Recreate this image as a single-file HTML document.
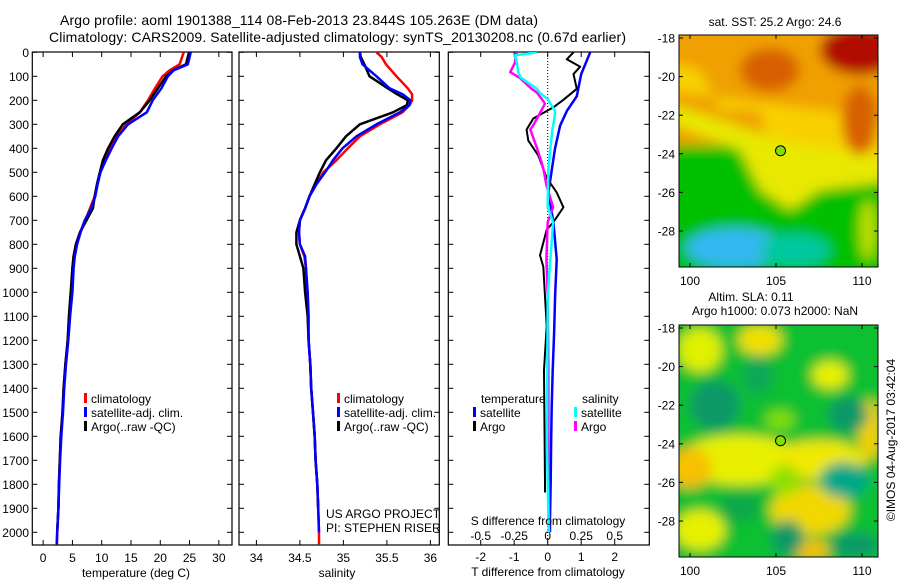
<!DOCTYPE html>
<html><head><meta charset="utf-8"><style>
body{margin:0;background:#fff;}
svg{display:block;font-family:"Liberation Sans",sans-serif;}
text{font-size:12px;fill:#000;}
</style></head><body>
<svg id="chart" width="900" height="580" viewBox="0 0 900 580" xmlns="http://www.w3.org/2000/svg">
<defs>
<clipPath id="c1"><rect x="32" y="52" width="200" height="493"/></clipPath>
<clipPath id="c2"><rect x="239" y="52" width="200" height="493"/></clipPath>
<clipPath id="c3"><rect x="448" y="52" width="201" height="493"/></clipPath>
<clipPath id="m1"><rect x="679" y="35" width="199" height="232"/></clipPath>
<clipPath id="m2"><rect x="679" y="325" width="199" height="232"/></clipPath>
<filter id="bl" x="-20%" y="-20%" width="140%" height="140%"><feGaussianBlur stdDeviation="6"/></filter>
<filter id="bl2" x="-20%" y="-20%" width="140%" height="140%"><feGaussianBlur stdDeviation="6"/></filter>
</defs>
<text x="60" y="25" textLength="478" style="font-size:14px">Argo profile: aoml 1901388_114 08-Feb-2013 23.844S 105.263E (DM data)</text>
<text x="49" y="42" textLength="577" style="font-size:14px">Climatology: CARS2009. Satellite-adjusted climatology: synTS_20130208.nc (0.67d earlier)</text>
<g id="maps"></g>
<g id="plots"></g>
</svg>
<script>
// ---- data ----
const depthT = [0,50,75,100,150,200,250,300,350,400,450,500,550,600,650,700,750,800,850,900,1000,1100,1200,1300,1400,1500,1600,1700,1800,1900,2000,2050];
const tempClim = [24.0,23.3,21.6,20.4,19.1,17.9,16.5,14.2,12.6,11.4,10.4,9.7,9.2,8.8,8.0,7.2,6.3,5.6,5.2,5.0,4.8,4.5,4.2,3.8,3.5,3.3,3.0,2.85,2.7,2.6,2.4,2.3];
const tempSat = [25.2,24.7,22.3,21.3,20.2,18.7,17.7,14.5,12.8,11.7,10.7,9.8,9.3,8.9,8.2,7.1,6.4,5.8,5.4,5.2,5.0,4.6,4.3,3.9,3.6,3.4,3.1,2.9,2.75,2.6,2.4,2.35];
const tempArgo = [24.9,24.4,22.2,21.0,19.6,18.2,16.5,13.6,12.2,11.1,10.2,9.7,9.2,8.8,8.5,7.4,6.3,5.6,5.2,5.0,4.7,4.4,4.2,3.8,3.5,3.3,3.0,2.85,2.7,2.6,2.4,null];
const depthS = [0,20,50,100,150,175,200,220,250,300,350,400,450,500,550,600,650,700,750,800,850,900,1000,1100,1200,1300,1400,1500,1600,1700,1800,1900,2000,2050];
const salClim = [35.38,35.44,35.49,35.61,35.74,35.79,35.79,35.76,35.68,35.42,35.19,35.05,34.92,34.77,34.69,34.61,34.56,34.5,34.49,34.5,34.55,34.57,34.58,34.59,34.6,34.62,34.63,34.65,34.67,34.68,34.7,34.71,34.72,34.72];
const salSat = [35.19,35.19,35.22,35.38,35.53,35.68,35.77,35.76,35.65,35.38,35.15,34.99,34.88,34.79,34.69,34.61,34.56,34.5,34.49,34.5,34.56,34.57,34.59,34.6,34.6,34.62,34.63,34.65,34.67,34.68,34.7,34.71,34.72,null];
const salArgo = [35.19,35.2,35.24,35.30,35.51,35.62,35.74,35.73,35.57,35.19,35.03,34.92,34.80,34.73,34.67,34.61,34.56,34.5,34.46,34.46,34.5,34.54,34.56,34.59,34.6,34.62,34.63,34.65,34.67,34.68,34.7,34.71,null,null];
const depthDT = [0,91,183,245,306,399,492,584,708,862,1016,1171,1325,1479,1634,1788,1943,2000];
const dTsat = [1.27,1.0,0.87,0.57,0.37,0.22,0.12,0.02,0.17,0.27,0.22,0.19,0.15,0.12,0.1,0.09,0.07,0.07];
const depthDTA = [0,29,60,91,152,198,229,276,322,368,430,523,584,646,708,739,846,893,1140,1325,1788,1834];
const dTargo = [0.77,0.57,0.97,0.77,0.87,0.47,0.17,-0.43,-0.63,-0.58,-0.28,-0.03,0.27,0.47,0.17,-0.03,-0.23,-0.13,-0.03,-0.11,-0.08,-0.08];
const depthDS = [0,13,44,83,106,152,168,198,214,245,276,306,322,399,461,492,553,646,708,862,1016,1325,1634,1943,2000];
const dSargo = [-0.23,-0.24,-0.245,-0.28,-0.21,-0.12,-0.08,-0.04,-0.02,-0.05,-0.08,-0.11,-0.13,-0.08,-0.045,-0.03,-0.01,0.04,0,-0.01,0,0.005,0.005,0.008,0.008];
const dSsat = [-0.08,-0.245,-0.23,-0.22,-0.2,-0.08,-0.06,0.005,0.02,0.055,0.05,0.04,0.035,0.02,0.01,0.005,0.002,0.0,0.04,0.02,0.0,-0.003,-0.005,0.005,0.01];
const depthTicks = [0,100,200,300,400,500,600,700,800,900,1000,1100,1200,1300,1400,1500,1600,1700,1800,1900,2000];
const tempTicks = [0,5,10,15,20,25,30];
const salTicks = [34,34.5,35,35.5,36];
const dTTicks = [-2,-1,0,1,2];
const dSTicks = [-0.5,-0.25,0,0.25,0.5];
const lonTicks = [100,105,110];
const latTicks = [-18,-20,-22,-24,-26,-28];

const NS="http://www.w3.org/2000/svg";
const plots=document.getElementById('plots');
function mk(tag,attrs,parent){const e=document.createElementNS(NS,tag);for(const k in attrs)e.setAttribute(k,attrs[k]);(parent||plots).appendChild(e);return e;}
function txt(s,x,y,anchor,parent,size){const t=mk('text',{x:x,y:y,'text-anchor':anchor||'start'},parent);t.textContent=s;if(size)t.style.fontSize=size+'px';return t;}

const yD = d => 52.3 + d*0.24;
const xT = v => 32.3 + (v+1.85)*5.857;
const xS = v => 239 + (v-33.8)*87;
const xDT = v => 547.7 + v*33.5;
const xDS = v => 547.7 + v*4*33.5;

function line(xs,ds,xf,color,w,clip,name){
  let d='';let pen=false;
  for(let i=0;i<xs.length;i++){ if(xs[i]==null){pen=false;continue;} d+=(pen?'L':'M')+xf(xs[i]).toFixed(1)+','+yD(ds[i]).toFixed(1);pen=true;}
  const p=mk('path',{d:d,fill:'none',stroke:color,'stroke-width':w,'clip-path':'url(#'+clip+')','stroke-linejoin':'round'});
  
  
}
function box(x0,x1,name){
  const r=mk('rect',{x:x0,y:52,width:x1-x0,height:493,fill:'none',stroke:'#000','stroke-width':1.2});
  
  
}
box(32.3,232,'temperature-panel');
box(239,439.3,'salinity-panel');
box(448.3,649.3,'difference-panel');
depthTicks.forEach(d=>{
  const y=yD(d);
  const t=txt(String(d),29,y+4.5,'end');
  
  
  [[32.3,1],[232,-1],[239,1],[439.3,-1],[448.3,1],[649.3,-1]].forEach(([x,s])=>mk('line',{x1:x,x2:x+s*5,y1:y,y2:y,stroke:'#000'}));
});
tempTicks.forEach(v=>{const x=xT(v);mk('line',{x1:x,x2:x,y1:545,y2:540,stroke:'#000'});mk('line',{x1:x,x2:x,y1:52,y2:57,stroke:'#000'});
  const t=txt(String(v),x,562,'middle');});
salTicks.forEach(v=>{const x=xS(v);mk('line',{x1:x,x2:x,y1:545,y2:540,stroke:'#000'});mk('line',{x1:x,x2:x,y1:52,y2:57,stroke:'#000'});
  const t=txt(String(v),x,562,'middle');});
dTTicks.forEach(v=>{const x=xDT(v);mk('line',{x1:x,x2:x,y1:545,y2:540,stroke:'#000'});mk('line',{x1:x,x2:x,y1:52,y2:57,stroke:'#000'});
  const t=txt(String(v),x,561,'middle');});
dSTicks.forEach(v=>{const t=txt(String(v),xDS(v),540,'middle');});
mk('line',{x1:xDT(0),x2:xDT(0),y1:52,y2:545,stroke:'#000','stroke-dasharray':'1,2'});
let t;
t=txt('temperature (deg C)',136,577,'middle');
t=txt('salinity',337,577,'middle');
t=txt('T difference from climatology',548,576,'middle');

line(tempClim,depthT,xT,'#f00',2.5,'c1','temp-climatology-line');
line(tempArgo,depthT,xT,'#000',2.5,'c1','temp-argo-line');
line(tempSat,depthT,xT,'#00f',2.5,'c1','temp-satellite-line');
line(salClim,depthS,xS,'#f00',2.5,'c2','sal-climatology-line');
line(salArgo,depthS,xS,'#000',2.5,'c2','sal-argo-line');
line(salSat,depthS,xS,'#00f',2.5,'c2','sal-satellite-line');
line(dTsat,depthDT,xDT,'#00f',2.5,'c3','t-diff-satellite-line');
line(dTargo,depthDTA,xDT,'#000',2,'c3','t-diff-argo-line');
line(dSargo,depthDS,xDS,'#f0f',2.5,'c3','s-diff-argo-line');
line(dSsat,depthDS,xDS,'#0ff',2.5,'c3','s-diff-satellite-line');

t=txt('S difference from climatology',548,525,'middle');

function legend(x,y,items,name){
  const g=mk('g',{});
  items.forEach((it,i)=>{mk('rect',{x:x,y:y+i*14-6,width:3,height:10,fill:it[1]},g);txt(it[0],x+7,y+i*14+4,'start',g);});
}
legend(84,399,[['climatology','#f00'],['satellite-adj. clim.','#00f'],['Argo(..raw -QC)','#000']],'temperature-legend');
legend(337,399,[['climatology','#f00'],['satellite-adj. clim.','#00f'],['Argo(..raw -QC)','#000']],'salinity-legend');
t=txt('temperature',481,403,'start');
t=txt('salinity',582,403,'start');
legend(473,413,[['satellite','#00f'],['Argo','#000']],'t-diff-legend');
legend(574,413,[['satellite','#0ff'],['Argo','#f0f']],'s-diff-legend');
t=txt('US ARGO PROJECT',326,518,'start');
t=txt('PI: STEPHEN RISER',326,532,'start');

// ---- maps ----
const maps=document.getElementById('maps');
const mx = lon => 690 + (lon-100)*17.2;
const my1 = lat => 38 + (-18-lat)*19.3;
const my2 = lat => 328 + (-18-lat)*19.3;
function mapAxes(my,y0,name){
  const r=mk('rect',{x:679,y:y0,width:199,height:232,fill:'none',stroke:'#000'},maps);
  
  latTicks.forEach(l=>{const y=my(l);mk('line',{x1:679,x2:683,y1:y,y2:y,stroke:'#000'},maps);mk('line',{x1:878,x2:874,y1:y,y2:y,stroke:'#000'},maps);
    const tt=txt(String(l),675,y+4.5,'end',maps);});
  lonTicks.forEach(l=>{const x=mx(l);mk('line',{x1:x,x2:x,y1:y0,y2:y0+4,stroke:'#000'},maps);mk('line',{x1:x,x2:x,y1:y0+232,y2:y0+228,stroke:'#000'},maps);
    const tt=txt(String(l),x,y0+250,'middle',maps);});
}
const g1=mk('g',{'clip-path':'url(#m1)'},maps);

const gb1=mk('g',{filter:'url(#bl2)'},g1);
mk('rect',{x:660,y:20,width:240,height:270,fill:'#00c000'},gb1);
mk('rect',{x:660,y:15,width:240,height:130,fill:'#f0a000'},gb1);
mk('path',{d:'M660,60 L700,70 L720,110 L760,110 L780,200 L810,180 L830,150 L900,170 L900,120 L660,90 Z',fill:'#f8d000'},gb1);
mk('path',{d:'M660,120 L740,150 L760,190 L790,210 L820,190 L900,180 L900,160 L780,140 L660,100Z',fill:'#e8e800'},gb1);
mk('ellipse',{cx:770,cy:70,rx:30,ry:22,fill:'#d86000'},gb1);
mk('ellipse',{cx:860,cy:50,rx:40,ry:25,fill:'#b01000'},gb1);
mk('ellipse',{cx:860,cy:120,rx:18,ry:35,fill:'#d86000'},gb1);
mk('ellipse',{cx:735,cy:248,rx:50,ry:20,fill:'#30b8f0'},gb1);
mk('ellipse',{cx:795,cy:250,rx:35,ry:16,fill:'#00c8a0'},gb1);
mk('ellipse',{cx:868,cy:230,rx:8,ry:30,fill:'#c0e000'},gb1);
mapAxes(my1,35,'sst-map-frame');
const g2=mk('g',{'clip-path':'url(#m2)'},maps);

const gb2=mk('g',{filter:'url(#bl)'},g2);
mk('rect',{x:660,y:310,width:240,height:270,fill:'#10c030'},gb2);
[[700,350,22,22,'#e0f000'],[760,340,22,15,'#f0e000'],[830,375,18,14,'#e8f000'],[740,460,60,25,'#e8f000'],[690,468,22,20,'#f8c000'],[820,460,45,20,'#f0e800'],[870,430,12,30,'#f0d000'],[810,510,40,25,'#f0d800'],[700,530,25,20,'#e8f000'],[810,550,20,10,'#f8c000'],[780,420,15,10,'#80e000'],[785,480,15,15,'#90e000']].forEach(b=>mk('ellipse',{cx:b[0],cy:b[1],rx:b[2],ry:b[3],fill:b[4]},gb2));
[[715,405,25,25,'#109868'],[758,375,15,20,'#10a858'],[848,415,20,18,'#109868'],[844,480,25,18,'#00a888'],[788,538,16,18,'#109868'],[740,508,20,15,'#10a848'],[855,545,25,12,'#109868']].forEach(b=>mk('ellipse',{cx:b[0],cy:b[1],rx:b[2],ry:b[3],fill:b[4]},gb2));
mapAxes(my2,325,'sla-map-frame');
[my1,my2].forEach((my,i)=>{const c=mk('circle',{cx:mx(105.263),cy:my(-23.844),r:5,fill:'#80e000',stroke:'#000'},maps);
  });
t=txt('sat. SST: 25.2  Argo: 24.6',775,26,'middle',maps);
t=txt('Altim. SLA: 0.11',751,301,'middle',maps);
t=txt('Argo h1000: 0.073 h2000: NaN',775,315,'middle',maps);
t=txt('©IMOS 04-Aug-2017 03:42:04',0,0,'middle',maps);t.setAttribute('transform','translate(895,440) rotate(-90)');

</script>
</body></html>
